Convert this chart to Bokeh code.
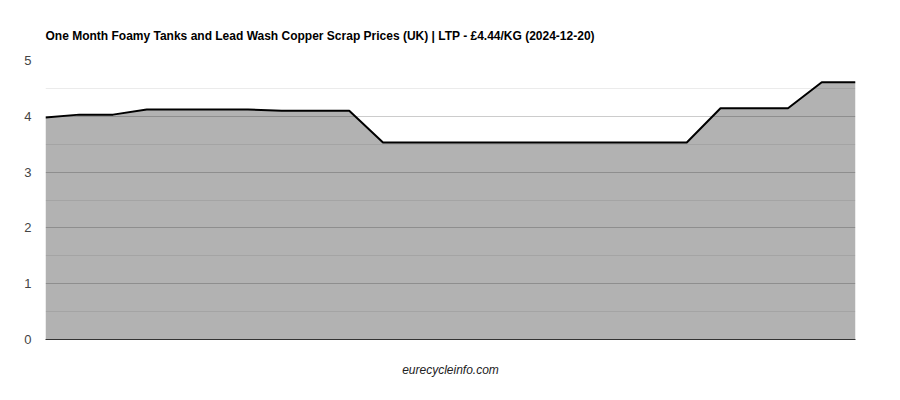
from bokeh.plotting import figure
from bokeh.models import Range1d, FixedTicker, ColumnDataSource
from bokeh.embed import file_html
from bokeh.resources import INLINE

# one month of daily prices, GBP per kg
day_index = list(range(25))
price_gbp_kg = [3.98, 4.03, 4.03, 4.12, 4.12, 4.12, 4.12, 4.10, 4.10, 4.10,
                3.53, 3.53, 3.53, 3.53, 3.53, 3.53, 3.53, 3.53, 3.53, 3.53,
                4.145, 4.145, 4.145, 4.61, 4.61]
y_ticks = [0, 1, 2, 3, 4, 5]
y_minor = [0.5, 1.5, 2.5, 3.5, 4.5]

title = "One Month Foamy Tanks and Lead Wash Copper Scrap Prices (UK) | LTP - £4.44/KG (2024-12-20)"
FONT = "Liberation Sans"

src = ColumnDataSource(dict(x=day_index, y=price_gbp_kg))

p = figure(
    width=900, height=400,
    x_range=Range1d(0, 24), y_range=Range1d(0, 5),
    output_backend="svg", toolbar_location=None,
    min_border_left=45, min_border_right=45,
    min_border_top=60, min_border_bottom=61,
)
p.outline_line_color = None
p.background_fill_color = "white"

p.title.text = title
p.title.text_font = FONT
p.title.text_font_size = "12px"
p.title.text_font_style = "bold"
p.title.text_color = "#000000"
p.title.offset = 0
p.title.standoff = 35

p.varea(x="x", y1=0, y2="y", source=src, fill_color="black", fill_alpha=0.3)
p.line(x="x", y="y", source=src, line_color="black", line_width=2)

# y axis
p.yaxis.ticker = FixedTicker(ticks=y_ticks, minor_ticks=y_minor)
p.yaxis.axis_line_color = None
p.yaxis.major_tick_line_color = None
p.yaxis.minor_tick_line_color = None
p.yaxis.major_label_text_font = FONT
p.yaxis.major_label_text_font_size = "13px"
p.yaxis.major_label_text_color = "#444444"
p.yaxis.major_label_standoff = 8

p.ygrid.grid_line_color = "#cccccc"
p.ygrid.minor_grid_line_color = "#ebebeb"
p.xgrid.grid_line_color = None

# x axis: baseline only, source credit as label
p.xaxis.ticker = FixedTicker(ticks=[])
p.xaxis.axis_line_color = "#333333"
p.xaxis.axis_line_width = 1
p.xaxis.major_tick_line_color = None
p.xaxis.minor_tick_line_color = None
p.xaxis.major_label_text_font_size = "0px"
p.xaxis.axis_label = "eurecycleinfo.com"
p.xaxis.axis_label_text_font = FONT
p.xaxis.axis_label_text_font_size = "12px"
p.xaxis.axis_label_text_font_style = "italic"
p.xaxis.axis_label_text_color = "#222222"
p.xaxis.axis_label_standoff = 23

open("out.html", "w").write(file_html(p, INLINE))
